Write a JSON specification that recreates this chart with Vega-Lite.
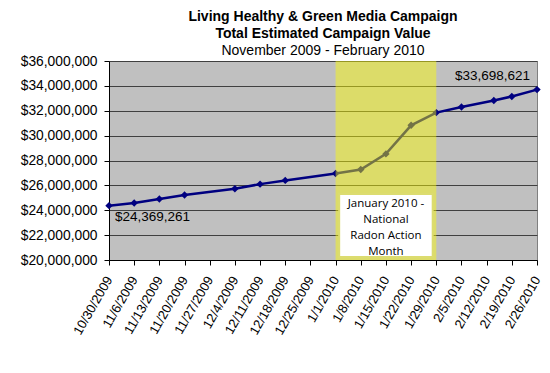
{
  "$schema": "https://vega.github.io/schema/vega-lite/v6.json",
  "width": 428,
  "height": 199,
  "autosize": "none",
  "padding": {"left": 109, "top": 61, "right": 13, "bottom": 113},
  "background": "white",
  "title": {
    "text": ["Living Healthy & Green Media Campaign", "Total Estimated Campaign Value"],
    "subtitle": "November 2009 - February 2010",
    "font": "Liberation Sans",
    "fontSize": 14,
    "fontWeight": "bold",
    "lineHeight": 17,
    "color": "black",
    "subtitleFont": "Liberation Sans",
    "subtitleFontSize": 14,
    "subtitleColor": "black",
    "subtitlePadding": 3,
    "anchor": "middle",
    "offset": -4
  },
  "datasets": {
    "series": [
      {"date": "2009-10-30", "value": 24369261},
      {"date": "2009-11-06", "value": 24580000},
      {"date": "2009-11-13", "value": 24900000},
      {"date": "2009-11-20", "value": 25220000},
      {"date": "2009-12-04", "value": 25730000},
      {"date": "2009-12-11", "value": 26100000},
      {"date": "2009-12-18", "value": 26400000},
      {"date": "2010-01-01", "value": 26960000},
      {"date": "2010-01-08", "value": 27280000},
      {"date": "2010-01-15", "value": 28530000},
      {"date": "2010-01-22", "value": 30830000},
      {"date": "2010-01-29", "value": 31850000},
      {"date": "2010-02-05", "value": 32300000},
      {"date": "2010-02-14", "value": 32830000},
      {"date": "2010-02-19", "value": 33150000},
      {"date": "2010-02-26", "value": 33698621}
    ],
    "band": [
      {"start": "2010-01-01", "end": "2010-01-29"}
    ],
    "note": [
      {"x": "2010-01-02", "x2": "2010-01-28", "xm": "2010-01-15", "y": 25300000, "y2": 20250000, "ym": 24480000, "label": "January 2010 -\nNational\nRadon Action\nMonth"}
    ],
    "labels": [
      {"date": "2009-10-30", "value": 24369261, "label": "$24,369,261", "pos": "below"},
      {"date": "2010-02-26", "value": 33698621, "label": "$33,698,621", "pos": "above"}
    ]
  },
  "config": {
    "view": {"stroke": "#808080", "fill": "#c0c0c0"},
    "axis": {
      "labelFont": "Liberation Sans",
      "labelColor": "black",
      "domainColor": "black",
      "tickColor": "black",
      "tickSize": 5,
      "labelFontSize": 13
    }
  },
  "layer": [
    {
      "data": {"name": "series"},
      "mark": {
        "type": "line",
        "color": "#000080",
        "strokeWidth": 2.5,
        "point": {"shape": "diamond", "size": 55, "filled": true, "color": "#000080", "opacity": 1}
      },
      "encoding": {
        "x": {
          "field": "date",
          "type": "temporal",
          "title": null,
          "scale": {
            "type": "utc",
            "domain": [
              {"year": 2009, "month": 10, "date": 30, "utc": true},
              {"year": 2010, "month": 2, "date": 26, "utc": true}
            ]
          },
          "axis": {
            "values": [
              {"year": 2009, "month": 10, "date": 30, "utc": true},
              {"year": 2009, "month": 11, "date": 6, "utc": true},
              {"year": 2009, "month": 11, "date": 13, "utc": true},
              {"year": 2009, "month": 11, "date": 20, "utc": true},
              {"year": 2009, "month": 11, "date": 27, "utc": true},
              {"year": 2009, "month": 12, "date": 4, "utc": true},
              {"year": 2009, "month": 12, "date": 11, "utc": true},
              {"year": 2009, "month": 12, "date": 18, "utc": true},
              {"year": 2009, "month": 12, "date": 25, "utc": true},
              {"year": 2010, "month": 1, "date": 1, "utc": true},
              {"year": 2010, "month": 1, "date": 8, "utc": true},
              {"year": 2010, "month": 1, "date": 15, "utc": true},
              {"year": 2010, "month": 1, "date": 22, "utc": true},
              {"year": 2010, "month": 1, "date": 29, "utc": true},
              {"year": 2010, "month": 2, "date": 5, "utc": true},
              {"year": 2010, "month": 2, "date": 12, "utc": true},
              {"year": 2010, "month": 2, "date": 19, "utc": true},
              {"year": 2010, "month": 2, "date": 26, "utc": true}
            ],
            "tickCount": 40,
            "labelExpr": "utcFormat(datum.value, '%-m/%-d/%Y')",
            "labelAngle": -60,
            "labelAlign": "right",
            "labelBaseline": "middle",
            "labelPadding": 12,
            "labelOverlap": false,
            "labelFlush": false,
            "grid": false
          }
        },
        "y": {
          "field": "value",
          "type": "quantitative",
          "title": null,
          "scale": {"domain": [20000000, 36000000], "nice": false, "zero": false},
          "axis": {
            "values": [20000000, 22000000, 24000000, 26000000, 28000000, 30000000, 32000000, 34000000, 36000000],
            "tickCount": 20,
            "format": "$,.0f",
            "labelFontSize": 13.8,
            "labelPadding": 7,
            "labelOverlap": false,
            "grid": true,
            "gridColor": "#404040",
            "gridOpacity": 1,
            "gridWidth": 1
          }
        }
      }
    },
    {
      "data": {"name": "band"},
      "mark": {"type": "rect", "color": "#ffff00", "opacity": 0.45},
      "encoding": {
        "x": {"field": "start", "type": "temporal", "title": null},
        "x2": {"field": "end"}
      }
    },
    {
      "data": {"name": "note"},
      "mark": {"type": "rect", "fill": "white", "stroke": "#dcdc70", "strokeWidth": 2},
      "encoding": {
        "x": {"field": "x", "type": "temporal", "title": null},
        "x2": {"field": "x2"},
        "y": {"field": "y", "type": "quantitative", "title": null},
        "y2": {"field": "y2"}
      }
    },
    {
      "data": {"name": "note"},
      "mark": {"type": "text", "font": "Open Sans", "fontSize": 11.5, "lineHeight": 16, "align": "center", "baseline": "middle", "color": "black", "lineBreak": "\n"},
      "encoding": {
        "x": {"field": "xm", "type": "temporal", "title": null},
        "y": {"field": "ym", "type": "quantitative", "title": null},
        "text": {"field": "label"}
      }
    },
    {
      "data": {"name": "labels"},
      "transform": [{"filter": "datum.pos == 'below'"}],
      "mark": {"type": "text", "font": "Liberation Sans", "fontSize": 13.5, "align": "left", "baseline": "middle", "dx": 6, "dy": 11, "color": "black"},
      "encoding": {
        "x": {"field": "date", "type": "temporal", "title": null},
        "y": {"field": "value", "type": "quantitative", "title": null},
        "text": {"field": "label"}
      }
    },
    {
      "data": {"name": "labels"},
      "transform": [{"filter": "datum.pos == 'above'"}],
      "mark": {"type": "text", "font": "Liberation Sans", "fontSize": 13.5, "align": "right", "baseline": "middle", "dx": -7, "dy": -14, "color": "black"},
      "encoding": {
        "x": {"field": "date", "type": "temporal", "title": null},
        "y": {"field": "value", "type": "quantitative", "title": null},
        "text": {"field": "label"}
      }
    }
  ]
}
